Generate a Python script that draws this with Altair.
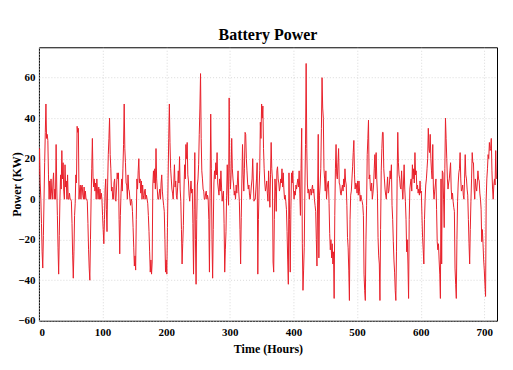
import altair as alt
import pandas as pd

# Hourly battery power (kW), in 90-hour blocks
seg1 = [12,25,8,0,-12,-26,-34,-18,0,18,33,47,30,32,29,12,0,9,0,10,3,0,8,13,0,5,0,27,6,-8,
        -24,-37,-18,0,12,5,24,10,18,4,0,17,6,9,0,12,0,0,3,0,0,-1,-12,-28,-39,-26,-8,-2,12,8,
        36,33,35,0,5,7,0,6,7,2,0,6,0,4,0,0,-1,-12,-25,-34,-40,-20,0,15,30,11,6,10,4,8]
seg2 = [0,10,4,0,6,0,5,0,3,0,-8,-15,-22,-10,5,10,-5,-16,8,22,30,40,22,15,4,6,0,0,8,10,
        0,-1,6,13,10,13,-10,-27,-8,3,10,4,15,27,47,25,18,8,7,0,12,5,4,0,-3,0,-1,-6,-14,-24,
        -33,-28,-35,-10,10,5,14,20,8,10,3,9,0,7,2,0,4,5,0,2,0,-2,-8,-16,-26,-36,-30,-37,-31,7]
seg3 = [14,8,15,5,25,10,5,0,0,3,5,0,8,12,4,0,-3,-6,-20,-36,-30,-37,-14,10,30,47,28,15,10,5,
        3,0,8,17,6,9,2,0,6,14,8,21,5,-1,-15,-32,-22,-13,5,17,10,27,20,28,12,9,2,-1,4,9,
        3,5,-12,-37,-5,23,-20,-42,-10,7,10,17,32,45,62,30,14,10,5,4,0,0,3,4,0,2,0,-10,-36,5]
seg4 = [42,15,-20,-39,-15,8,14,10,18,12,23,8,5,2,10,4,14,6,-1,2,4,-12,-36,-25,-16,2,17,5,-3,50,
        15,5,12,30,15,10,7,2,4,0,7,3,9,14,4,-1,-15,-32,-9,10,27,12,4,15,33,32,20,14,8,5,
        7,2,0,3,7,10,20,8,-1,0,0,5,10,18,-37,-10,5,14,38,30,47,40,46,25,15,8,4,6,9,3]
seg5 = [-1,14,4,-4,12,28,15,10,-31,-36,-10,10,4,-6,14,16,10,8,4,6,10,8,15,6,13,5,0,2,-1,-5,
        -16,-30,-42,13,-10,-36,-5,13,8,14,5,0,4,2,7,5,8,10,6,14,3,-8,15,35,-22,-45,-35,-24,5,27,
        67,25,7,3,5,0,4,5,2,5,7,3,5,0,-3,-6,-20,-33,0,32,-29,2,7,15,35,60,45,40,15,10]
seg6 = [4,14,0,5,8,9,-2,-17,-25,-20,-29,-22,-32,-26,-49,-8,15,27,12,10,18,25,8,7,3,2,5,7,4,10,
        6,15,9,7,-3,-19,-24,-35,-50,-10,2,4,10,16,23,29,12,5,8,7,3,9,2,9,4,-1,2,0,-1,-3,
        -8,-37,-45,-50,-20,-3,22,30,39,10,12,5,4,8,0,3,7,15,22,10,23,10,3,-19,-28,-32,-50,-15,14,25]
seg7 = [33,33,15,10,5,2,0,6,11,3,4,8,14,10,17,-3,-10,-21,-30,-36,-45,-50,-26,10,33,18,12,10,6,5,
        14,5,0,8,17,5,-1,-10,-26,-20,-32,-49,-10,5,8,10,4,17,10,15,8,23,12,14,5,7,3,5,2,9,
        3,4,-8,-19,-25,-32,-10,0,7,10,15,20,35,25,23,32,20,14,10,27,5,0,4,7,10,-5,-21,-25,-22,-30]
seg8 = [-37,-49,10,-32,14,13,0,-14,15,40,30,20,10,5,8,10,14,18,5,0,3,-1,-4,-6,-34,-42,-49,-20,-1,8,
        13,15,23,10,4,5,7,2,0,10,22,12,10,5,2,-10,-22,-32,-15,-1,10,23,18,18,5,0,10,6,4,8,
        14,10,9,3,0,-5,-21,-15,-22,-30,-35,-42,-48,0,10,15,22,20,28,24,25,30,14,5,0,7,10,7,24,10]

power = seg1 + seg2 + seg3 + seg4 + seg5 + seg6 + seg7 + seg8
hours = list(range(len(power)))

x_ticks = [0, 100, 200, 300, 400, 500, 600, 700]
y_ticks = [-60, -40, -20, 0, 20, 40, 60]

df = pd.DataFrame({"Time": hours, "Power": power})

FONT = "Liberation Serif"

chart = alt.Chart(df).mark_line(color="#e8212b", strokeWidth=1, clip=True).encode(
    x=alt.X("Time:Q",
            scale=alt.Scale(domain=[0, 720], nice=False, zero=False),
            axis=alt.Axis(values=x_ticks, title="Time (Hours)", format="d",
                          grid=True, ticks=False, labelPadding=6, titlePadding=6)),
    y=alt.Y("Power:Q",
            scale=alt.Scale(domain=[-60, 75], nice=False, zero=False),
            axis=alt.Axis(values=y_ticks, title="Power (KW)", format="d",
                          grid=True, ticks=False, labelPadding=4,
                          titleX=-22, titleY=137, titleBaseline="middle",
                          titleAlign="center", titleAngle=270)),
).properties(
    width=459, height=274,
    title=alt.TitleParams("Battery Power", font=FONT, fontSize=16, fontWeight="bold",
                          color="black", offset=4),
    autosize=alt.AutoSizeParams(type="none"),
    padding={"left": 31, "top": 39, "right": 8, "bottom": 40},
).configure_view(
    stroke="black", strokeWidth=1
).configure_axis(
    labelFont=FONT, labelFontSize=11, labelFontWeight="bold", labelColor="black",
    titleFont=FONT, titleFontSize=12, titleFontWeight="bold", titleColor="black",
    domain=False, gridColor="#d0d0d0", gridDash=[1, 2], gridWidth=0.8,
)

chart.save("out.html", embed_options={"renderer": "svg", "actions": False})
